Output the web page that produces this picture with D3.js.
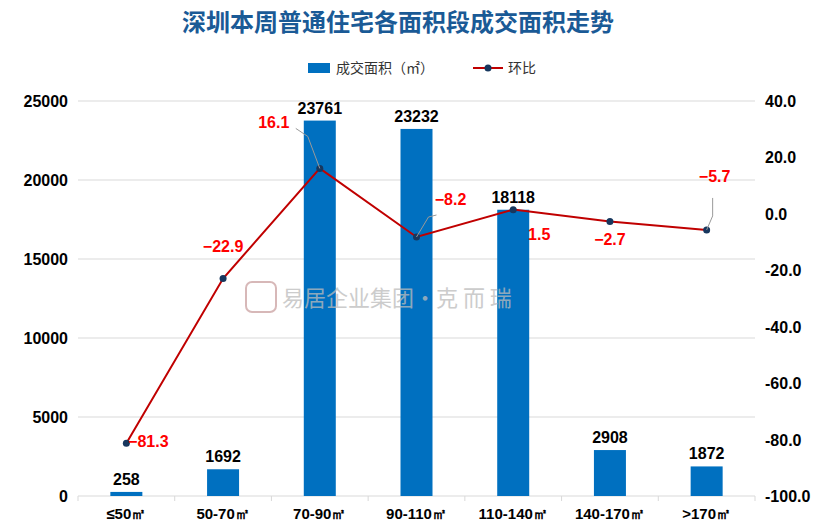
<!DOCTYPE html><html><head><meta charset="utf-8">
<script src="https://cdn.jsdelivr.net/npm/d3@7"></script>
<style>body{margin:0;background:#fff}</style></head><body><svg id="c" width="832" height="529"></svg>
<script>
const categories=["≤50㎡","50-70㎡","70-90㎡","90-110㎡","110-140㎡","140-170㎡",">170㎡"];
const areaValues=[258,1692,23761,23232,18118,2908,1872];
const ratioValues=[-81.3,-22.9,16.1,-8.2,1.5,-2.7,-5.7];
const leftTicks=[0,5000,10000,15000,20000,25000];
const rightTicks=[-100,-80,-60,-40,-20,0,20,40];
const svg=d3.select("#c"),F="'Microsoft YaHei','Noto Sans CJK SC',sans-serif";
const x=d3.scaleBand().domain(categories).range([78,755]);
const y=d3.scaleLinear().domain([0,25000]).range([496,101]);
const y2=d3.scaleLinear().domain([-100,40]).range([496,101]);
svg.append("text").attr("x",398).attr("y",31).attr("text-anchor","middle").attr("font-family",F).attr("font-weight","bold").attr("font-size",24).attr("fill","#1a5a96").text("深圳本周普通住宅各面积段成交面积走势");
svg.append("rect").attr("x",308).attr("y",63).attr("width",22).attr("height",10).attr("fill","#0070c0");
svg.append("text").attr("x",336).attr("y",73).attr("font-family",F).attr("font-size",14).attr("fill","#333").text("成交面积（㎡）");
svg.append("line").attr("x1",473).attr("x2",503).attr("y1",68).attr("y2",68).attr("stroke","#c00000").attr("stroke-width",2);
svg.append("circle").attr("cx",488).attr("cy",68).attr("r",3.5).attr("fill","#17375e");
svg.append("text").attr("x",508).attr("y",73).attr("font-family",F).attr("font-size",14).attr("fill","#333").text("环比");
svg.selectAll(".g").data(leftTicks).join("line").attr("x1",78).attr("x2",755).attr("y1",d=>y(d)).attr("y2",d=>y(d)).attr("stroke","#d9d9d9");
svg.selectAll(".lt").data(leftTicks).join("text").attr("x",68).attr("y",d=>y(d)+6).attr("text-anchor","end").attr("font-family","Arial,sans-serif").attr("font-weight","bold").attr("font-size",16).text(d=>d);
svg.selectAll(".rt").data(rightTicks).join("text").attr("x",765).attr("y",d=>y2(d)+6).attr("font-family","Arial,sans-serif").attr("font-weight","bold").attr("font-size",16).text(d=>d.toFixed(1));
svg.selectAll(".xt").data(categories).join("text").attr("x",d=>x(d)+x.bandwidth()/2).attr("y",519).attr("text-anchor","middle").attr("font-family","Arial,sans-serif").attr("font-weight","bold").attr("font-size",15).text(d=>d);
svg.selectAll(".xtk").data(d3.range(8)).join("line").attr("x1",i=>78+i*x.step()).attr("x2",i=>78+i*x.step()).attr("y1",496).attr("y2",501).attr("stroke","#d9d9d9");
const bw=32;
svg.selectAll(".b").data(areaValues).join("rect").attr("x",(d,i)=>x(categories[i])+x.bandwidth()/2-bw/2).attr("y",d=>y(d)).attr("width",bw).attr("height",d=>496-y(d)).attr("fill","#0070c0");
svg.selectAll(".bl").data(areaValues).join("text").attr("x",(d,i)=>x(categories[i])+x.bandwidth()/2).attr("y",d=>y(d)-7).attr("text-anchor","middle").attr("font-family","Arial,sans-serif").attr("font-weight","bold").attr("font-size",16).text(d=>d);
// watermark on top
svg.append("text").attr("x",282).attr("y",306).attr("font-family",F).attr("font-size",22).attr("fill","#bbb").attr("opacity",0.75).text("易居企业集团·克 而 瑞");
svg.append("rect").attr("x",246).attr("y",282).attr("width",30).attr("height",30).attr("rx",6).attr("fill","none").attr("stroke","#c9a0a0").attr("stroke-width",2).attr("opacity",0.75);
const cx=i=>x(categories[i])+x.bandwidth()/2;
svg.append("path").datum(ratioValues).attr("d",d3.line().x((d,i)=>cx(i)).y(d=>y2(d))).attr("fill","none").attr("stroke","#c00000").attr("stroke-width",2);
svg.selectAll(".p").data(ratioValues).join("circle").attr("cx",(d,i)=>cx(i)).attr("cy",d=>y2(d)).attr("r",3.5).attr("fill","#17375e");
const off=[[22,4,0],[0,-26,0],[-46,-40,1],[34,-32,1],[26,30,0],[0,24,0],[8,-48,1]];
ratioValues.forEach((v,i)=>{const px=cx(i),py=y2(v),o=off[i];
 if(o[2]){svg.append("polyline").attr("points",i==2?`${px},${py} ${px-12},${py-32} ${px-24},${py-40}`:i==3?`${px},${py} ${px+12},${py-20} ${px+20},${py-22}`:`${px},${py} ${px+6},${py-14} ${px+6},${py-32}`).attr("fill","none").attr("stroke","#999");}
 svg.append("text").attr("x",px+o[0]).attr("y",py+o[1]).attr("text-anchor","middle").attr("font-family","Arial,sans-serif").attr("font-weight","bold").attr("font-size",16).attr("fill","#ff0000").text(v.toFixed(1).replace("-","−"));
});
</script></body></html>
